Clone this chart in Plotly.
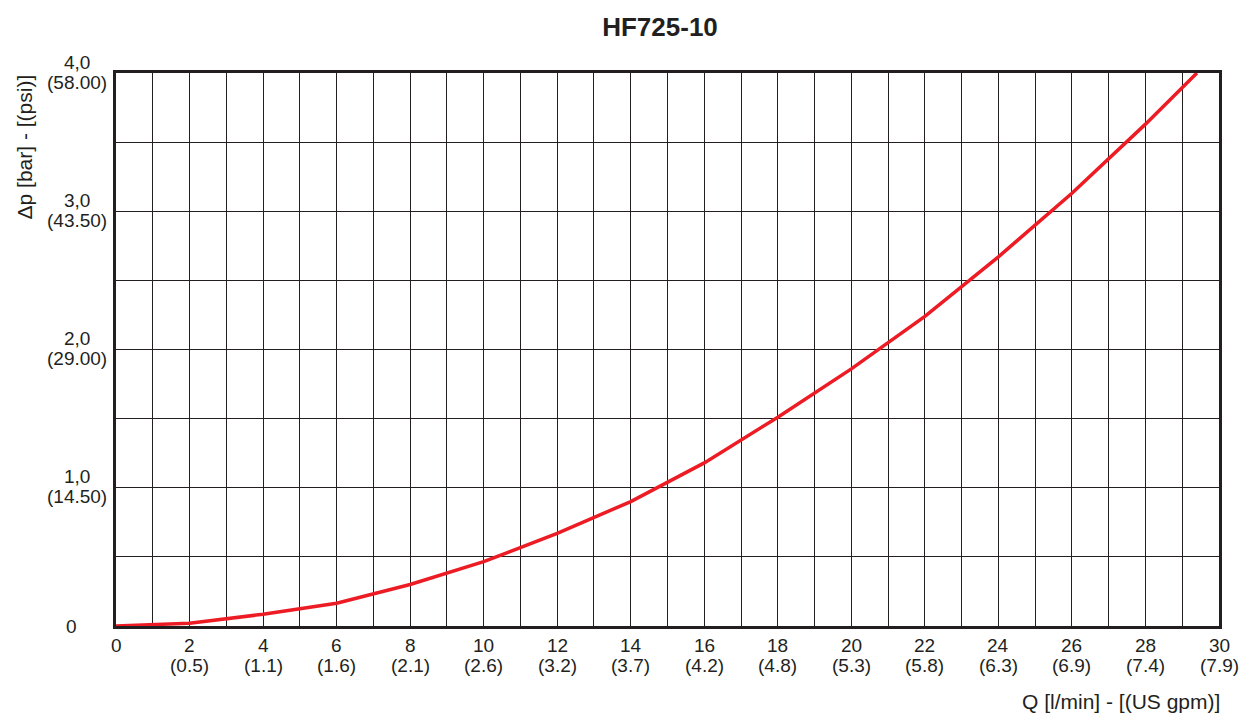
import plotly.graph_objects as go

# Data
q_lmin = [0, 2, 4, 6, 8, 10, 12, 14, 16, 18, 20, 22, 24, 26, 28, 29.4]
dp_bar = [0, 0.02, 0.085, 0.165, 0.30, 0.465, 0.67, 0.90, 1.18, 1.51, 1.86, 2.24, 2.67, 3.13, 3.63, 4.0]

x_tick_vals = [0, 2, 4, 6, 8, 10, 12, 14, 16, 18, 20, 22, 24, 26, 28, 30]
x_tick_gpm = ["", "0.5", "1.1", "1.6", "2.1", "2.6", "3.2", "3.7", "4.2", "4.8",
              "5.3", "5.8", "6.3", "6.9", "7.4", "7.9"]
y_tick_vals = [0, 1, 2, 3, 4]
y_tick_bar = ["0", "1,0", "2,0", "3,0", "4,0"]
y_tick_psi = ["", "14.50", "29.00", "43.50", "58.00"]

title = "HF725-10"
x_title = "Q [l/min] - [(US gpm)]"
y_title = "Δp [bar] - [(psi)]"

TXT = "#231f20"
GRID = "#231f20"
FONT = "Liberation Sans, Arial, sans-serif"
TICK_SIZE = 19
TITLE_SIZE = 21

fig = go.Figure()
fig.add_trace(go.Scatter(x=q_lmin, y=dp_bar, mode="lines",
                         line=dict(color="#ed1c24", width=3.5), hoverinfo="skip",
                         showlegend=False, cliponaxis=False))

all_x = list(range(0, 31))
all_y = [i * 0.5 for i in range(9)]

fig.update_layout(
    width=1242, height=714,
    margin=dict(l=116, r=23, t=73, b=88),
    paper_bgcolor="white", plot_bgcolor="white",
    font=dict(family=FONT, color=TXT, size=TICK_SIZE),
    title=dict(text=f"<b>{title}</b>", x=660 / 1242, xref="container", xanchor="center",
               y=1 - 27 / 714, yref="container", yanchor="middle",
               font=dict(size=26, color=TXT, family=FONT)),
    xaxis=dict(range=[0, 30], tickmode="array", tickvals=all_x,
               showgrid=True, gridcolor=GRID, gridwidth=1.3, zeroline=False,
               showline=True, linecolor=GRID, linewidth=2.5, mirror=True,
               showticklabels=False, fixedrange=True),
    yaxis=dict(range=[0, 4], tickmode="array", tickvals=all_y,
               showgrid=True, gridcolor=GRID, gridwidth=1.3, zeroline=False,
               showline=True, linecolor=GRID, linewidth=2.5, mirror=True,
               showticklabels=False, fixedrange=True),
)

tf = dict(size=TICK_SIZE, color=TXT, family=FONT)
annotations = []
# y tick labels: bar value above, psi value below
for v, b, p in zip(y_tick_vals, y_tick_bar, y_tick_psi):
    if p == "":
        annotations.append(dict(x=0, xref="paper", y=v, yref="y", text=b, showarrow=False,
                                xanchor="center", yanchor="middle", xshift=-45, yshift=0,
                                font=tf))
    else:
        annotations.append(dict(x=0, xref="paper", y=v, yref="y", text=b, showarrow=False,
                                xanchor="center", yanchor="middle", xshift=-39, yshift=11,
                                font=tf))
        annotations.append(dict(x=0, xref="paper", y=v, yref="y", text=f"({p})",
                                showarrow=False, xanchor="center", yanchor="middle",
                                xshift=-39, yshift=-9, font=tf))
# x tick labels: l/min value, US gpm value below
for v, g in zip(x_tick_vals, x_tick_gpm):
    annotations.append(dict(x=v, xref="x", y=0, yref="paper", text=str(v), showarrow=False,
                            xanchor="center", yanchor="middle", yshift=-19, font=tf))
    if g:
        annotations.append(dict(x=v, xref="x", y=0, yref="paper", text=f"({g})",
                                showarrow=False, xanchor="center", yanchor="middle",
                                yshift=-39.5, font=tf))
# axis titles
annotations.append(dict(x=1, xref="paper", y=0, yref="paper", text=x_title, showarrow=False,
                        xanchor="right", yanchor="middle", xshift=3, yshift=-75,
                        font=dict(size=TITLE_SIZE, color=TXT, family=FONT)))
annotations.append(dict(x=0, xref="paper", y=1, yref="paper", text=y_title,
                        showarrow=False, textangle=-90, xanchor="center", yanchor="top",
                        xshift=-92,
                        font=dict(size=TITLE_SIZE, color=TXT, family=FONT)))
fig.update_layout(annotations=annotations)

fig.write_html("out.html", config={"displayModeBar": False},
               post_script="document.body.style.margin='0px';")
